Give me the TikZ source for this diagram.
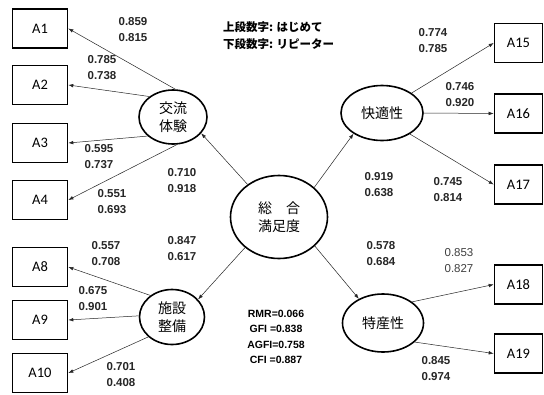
\documentclass[tikz,border=0pt]{standalone}
\usepackage{fontspec}
\setmainfont{Liberation Sans}
\newfontfamily\cjk{Noto Sans CJK JP}
\newfontfamily\boxfont{Carlito}
\usetikzlibrary{shapes.geometric,arrows.meta}
\begin{document}
\begin{tikzpicture}[x=1pt,y=-1pt,
  obs/.style={draw, line width=1.6pt, minimum width=55pt, minimum height=39pt, inner sep=0pt,
    font=\boxfont\fontsize{14.5}{15}\selectfont},
  obsr/.style={obs, minimum width=48pt},
  lat/.style={ellipse, draw, line width=1.6pt, inner sep=0pt, align=center,
    font=\cjk\fontsize{14}{18}\selectfont},
  conn/.style={-{Latex[length=5pt,width=3.6pt]}, line width=0.5pt, draw=black!85},
  num/.style={align=center, font=\bfseries\fontsize{11.5}{16}\selectfont, text=black!85},
  numl/.style={align=center, font=\fontsize{11.5}{16}\selectfont, text=black!75}]
\useasboundingbox[fill=white] (0,0) rectangle (544,394);

% observed variables, left
\node[obs] (A1) at (40,28.5) {A1};
\node[obs] (A2) at (40,85) {A2};
\node[obs] (A3) at (40,143) {A3};
\node[obs] (A4) at (40,200) {A4};
\node[obs] (A8) at (40,267) {A8};
\node[obs] (A9) at (40,320) {A9};
\node[obs] (A10) at (40,373) {A10};
% observed variables, right
\node[obsr] (A15) at (518.5,43) {A15};
\node[obsr] (A16) at (518.5,113.5) {A16};
\node[obsr] (A17) at (518.5,184.5) {A17};
\node[obsr] (A18) at (518.5,284.5) {A18};
\node[obsr] (A19) at (518.5,353.5) {A19};

% latent variables
\node[lat, minimum width=68pt, minimum height=54pt] (K) at (173,117) {交流\\体験};
\node[lat, minimum width=82pt, minimum height=55pt] (C) at (382,113) {快適性};
\node[lat, minimum width=97pt, minimum height=83pt] (S) at (279,217) {総　合\\満足度};
\node[lat, minimum width=65pt, minimum height=55pt] (F) at (172,317) {施設\\整備};
\node[lat, minimum width=81pt, minimum height=58pt] (T) at (383,323) {特産性};

% connectors
\draw[conn] (S.134) -- (K.330);
\draw[conn] (S.40) -- (C.216);
\draw[conn] (S.222) -- (F.34);
\draw[conn] (S.321) -- (T.135);

\draw[conn] (K.85) -- (A1.east);
\draw[conn] (K.139) -- (A2.east);
\draw[conn] (K.217) -- (A3.east);
\draw[conn] (K.278) -- (A4.east);

\draw[conn] (F.135) -- (A8.east);
\draw[conn] (F.178) -- (A9.east);
\draw[conn] (F.220) -- (A10.east);

\draw[conn] (C.34) -- (A15.west);
\draw[conn] (C.0) -- (A16.west);
\draw[conn] (C.323) -- (A17.west);

\draw[conn] (T.36) -- (A18.west);
\draw[conn] (T.329) -- (A19.west);

% coefficients
\node[num] (n1) at (133,29.5) {0.859\\0.815};
\node[num] (n2) at (102,68) {0.785\\0.738};
\node[num] (n3) at (99,157) {0.595\\0.737};
\node[num] (n4) at (112,201.5) {0.551\\0.693};
\node[num] (n5) at (182,180.5) {0.710\\0.918};
\node[num] (n6) at (182,248.5) {0.847\\0.617};
\node[num] (n7) at (106,254) {0.557\\0.708};
\node[num] (n8) at (93,298.5) {0.675\\0.901};
\node[num] (n9) at (121,375) {0.701\\0.408};
\node[num] (n10) at (433,41) {0.774\\0.785};
\node[num] (n11) at (460,94.5) {0.746\\0.920};
\node[num] (n12) at (379,184.5) {0.919\\0.638};
\node[num] (n13) at (448,190) {0.745\\0.814};
\node[num] (n14) at (381,253.5) {0.578\\0.684};
\node[numl] (n15) at (459,261) {0.853\\0.827};
\node[num] (n16) at (436,368.5) {0.845\\0.974};

% fit indices
\node[align=center, font=\bfseries\fontsize{10.5}{15.3}\selectfont] (fit) at (276,337)
  {RMR=0.066\\GFI =0.838\\AGFI=0.758\\CFI =0.887};

% legend
\node[anchor=west, align=left, inner sep=0pt, font=\cjk\bfseries\fontsize{11.5}{17}\selectfont] (leg) at (223,35.5)
  {上段数字: はじめて\\下段数字: リピーター};
\end{tikzpicture}
\end{document}
